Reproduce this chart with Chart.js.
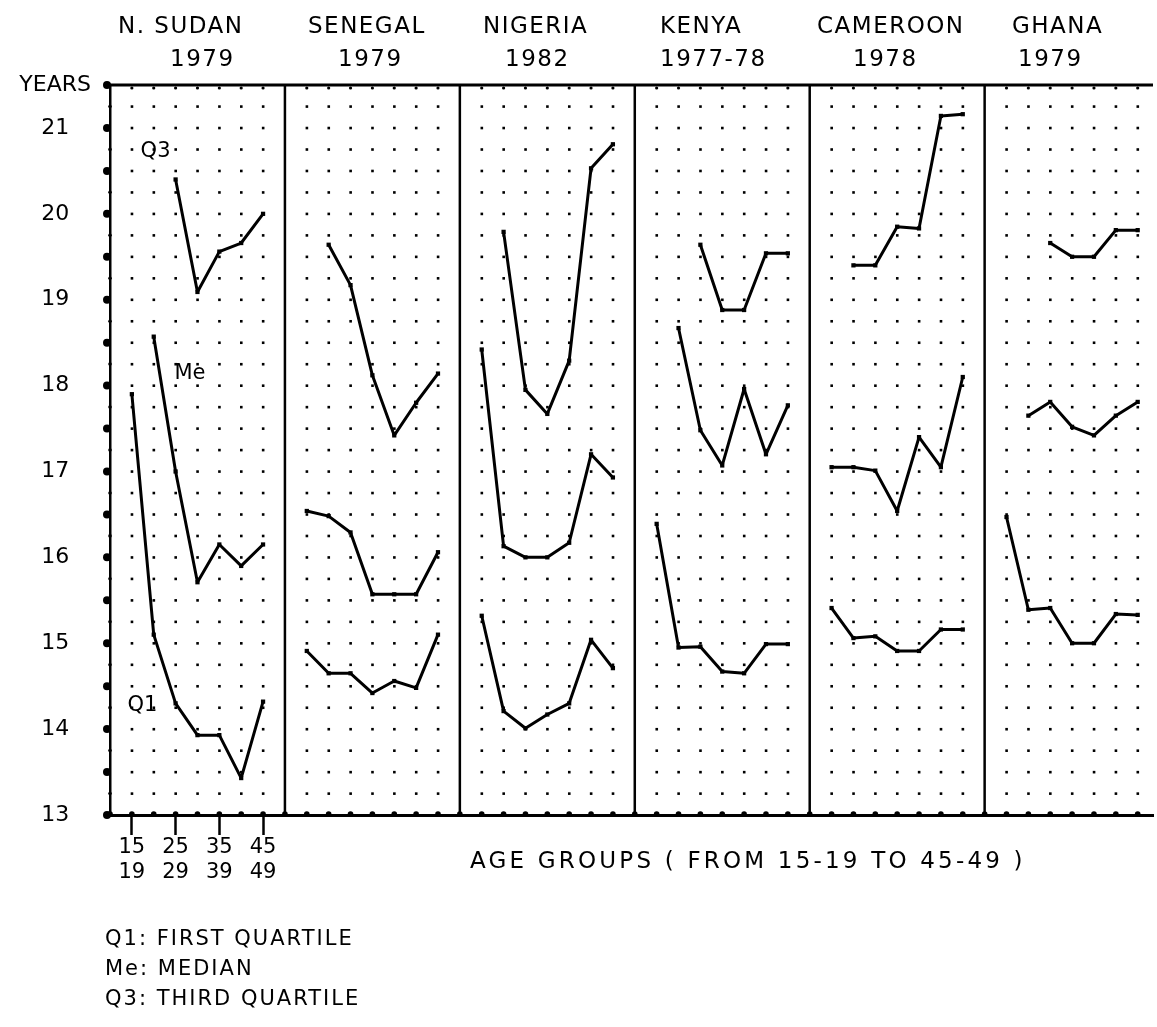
<!DOCTYPE html>
<html><head><meta charset="utf-8">
<script src="https://cdn.jsdelivr.net/npm/chart.js@4.4.1/dist/chart.umd.min.js"></script>
<style>html,body{margin:0;padding:0;background:#fff;}canvas{display:block;}</style>
</head><body>
<canvas id="c" width="1157" height="1027"></canvas>
<script>
// ---- data ----
const countries = ['N. SUDAN', 'SENEGAL', 'NIGERIA', 'KENYA', 'CAMEROON', 'GHANA'];
const surveyYears = ['1979', '1979', '1982', '1977-78', '1978', '1979'];
const ageGroups = ['15-19', '20-24', '25-29', '30-34', '35-39', '40-44', '45-49'];
const ageTickGroups = ['15-19', '25-29', '35-39', '45-49'];
const yTickValues = [13, 14, 15, 16, 17, 18, 19, 20, 21];
const yTopLabel = 'YEARS';

const sudanQ1 = [17.9, 15.1, 14.3, 13.93, 13.93, 13.43, 14.32];
const sudanMe = [null, 18.57, 17.0, 15.71, 16.15, 15.9, 16.15];
const sudanQ3 = [null, null, 20.4, 19.09, 19.56, 19.66, 20.0];

const senegalQ1 = [14.91, 14.65, 14.65, 14.42, 14.56, 14.48, 15.1];
const senegalMe = [16.54, 16.48, 16.29, 15.57, 15.57, 15.57, 16.06];
const senegalQ3 = [null, 19.64, 19.17, 18.12, 17.42, 17.8, 18.14];

const nigeriaQ1 = [15.32, 14.21, 14.01, 14.17, 14.3, 15.04, 14.71];
const nigeriaMe = [18.42, 16.13, 16.0, 16.0, 16.17, 17.2, 16.93];
const nigeriaQ3 = [null, 19.79, 17.95, 17.67, 18.29, 20.53, 20.81];

const kenyaQ1 = [16.39, 14.95, 14.96, 14.67, 14.65, 14.99, 14.99];
const kenyaMe = [null, 18.67, 17.48, 17.07, 17.96, 17.2, 17.77];
const kenyaQ3 = [null, null, 19.64, 18.88, 18.88, 19.54, 19.54];

const cameroonQ1 = [15.41, 15.06, 15.08, 14.91, 14.91, 15.16, 15.16];
const cameroonMe = [17.05, 17.05, 17.01, 16.54, 17.4, 17.05, 18.1];
const cameroonQ3 = [null, 19.4, 19.4, 19.85, 19.83, 21.14, 21.16];

const ghanaQ1 = [16.47, 15.39, 15.41, 15.0, 15.0, 15.34, 15.33];
const ghanaMe = [null, 17.65, 17.81, 17.52, 17.42, 17.65, 17.81];
const ghanaQ3 = [null, null, 19.66, 19.5, 19.5, 19.81, 19.81];

const seriesByCountry = [
  [sudanQ1, sudanMe, sudanQ3],
  [senegalQ1, senegalMe, senegalQ3],
  [nigeriaQ1, nigeriaMe, nigeriaQ3],
  [kenyaQ1, kenyaMe, kenyaQ3],
  [cameroonQ1, cameroonMe, cameroonQ3],
  [ghanaQ1, ghanaMe, ghanaQ3]
];
const seriesNames = ['Q1', 'Me', 'Q3'];
const legendLines = ['Q1: FIRST QUARTILE', 'Me: MEDIAN', 'Q3: THIRD QUARTILE'];
const axisTitle = 'AGE GROUPS ( FROM 15-19 TO 45-49 )';

// ---- layout helpers ----
const PANEL = 8;               // columns per panel
const xPos = (panel, ageIdx) => panel * PANEL + ageIdx + 1;
const X_MAX = 47.7;
const FONT = '"DejaVu Sans", sans-serif';

const datasets = [];
seriesByCountry.forEach((sets, p) => {
  sets.forEach((vals, s) => {
    datasets.push({
      label: countries[p] + ' ' + seriesNames[s],
      data: vals.map((v, i) => ({ x: xPos(p, i), y: v })),
      borderColor: '#000',
      backgroundColor: '#000',
      borderWidth: 3,
      borderJoinStyle: 'round',
      borderCapStyle: 'round',
      pointRadius: 3,
      pointStyle: 'rect',
      pointBorderWidth: 0,
      pointBackgroundColor: '#000',
      tension: 0,
      spanGaps: false
    });
  });
});

const deco = {
  id: 'deco',
  beforeDatasetsDraw(chart) {
    const { ctx, chartArea: a, scales: { x, y } } = chart;
    ctx.save();
    ctx.fillStyle = '#000';
    // grid dots
    for (let p = 0; p < countries.length; p++) {
      for (let c = 1; c < PANEL; c++) {
        const col = p * PANEL + c;
        if (col > X_MAX) continue;
        const px = x.getPixelForValue(col);
        for (let v = 13.25; v < 21.5; v += 0.25) {
          const py = y.getPixelForValue(v);
          ctx.fillRect(px - 1.2, py - 1.2, 2.6, 2.6);
        }
        ctx.beginPath(); ctx.arc(px, a.top + 3, 1.6, 0, Math.PI * 2); ctx.fill();
      }
    }
    for (let col = 0; col <= X_MAX; col++) {
      const px = x.getPixelForValue(col);
      ctx.beginPath(); ctx.arc(px, a.bottom - 1, 2.8, 0, Math.PI * 2); ctx.fill();
    }
    // y-axis dots
    for (let v = 13; v <= 21.5001; v += 0.25) {
      const py = y.getPixelForValue(v);
      const big = Math.abs(v * 2 - Math.round(v * 2)) < 1e-6;
      ctx.beginPath(); ctx.arc(a.left - (big ? 3 : 0), py, big ? 4 : 1.8, 0, Math.PI * 2); ctx.fill();
    }
    // panel dividers
    ctx.strokeStyle = '#000';
    ctx.lineWidth = 2.5;
    for (let p = 1; p < countries.length; p++) {
      const px = x.getPixelForValue(p * PANEL);
      ctx.beginPath(); ctx.moveTo(px, a.top); ctx.lineTo(px, a.bottom); ctx.stroke();
    }
    // top line
    ctx.lineWidth = 3;
    ctx.beginPath(); ctx.moveTo(a.left, a.top); ctx.lineTo(a.right, a.top); ctx.stroke();
    ctx.restore();
  },
  afterDraw(chart) {
    const { ctx, scales: { x, y } } = chart;
    ctx.save();
    ctx.fillStyle = '#000';
    ctx.textBaseline = 'alphabetic';
    ctx.font = '23px ' + FONT;
    ctx.letterSpacing = '1.5px';
    const titleX = [118, 308, 483, 660, 817, 1012];
    const yearX = [170, 338, 505, 660, 853, 1018];
    countries.forEach((c, i) => {
      ctx.textAlign = 'left';
      ctx.fillText(c, titleX[i], 33);
      ctx.fillText(surveyYears[i], yearX[i], 66);
    });
    // series annotations in first panel
    ctx.font = '21px ' + FONT;
    ctx.letterSpacing = '0px';
    ctx.textBaseline = 'middle';
    ctx.fillText('Q3', x.getPixelForValue(1.4), y.getPixelForValue(20.73));
    ctx.fillText('Me', x.getPixelForValue(2.95), y.getPixelForValue(18.14));
    ctx.fillText('Q1', x.getPixelForValue(0.8), y.getPixelForValue(14.28));
    // axis title
    ctx.font = '23px ' + FONT;
    ctx.letterSpacing = '3.2px';
    ctx.fillText(axisTitle, 470, 862);
    // legend lines
    ctx.font = '21px ' + FONT;
    ctx.letterSpacing = '2px';
    legendLines.forEach((t, i) => ctx.fillText(t, 105, 940 + i * 30));
    ctx.restore();
  }
};

new Chart(document.getElementById('c'), {
  type: 'line',
  data: { datasets },
  plugins: [deco],
  options: {
    responsive: false,
    animation: false,
    events: [],
    layout: { padding: { top: 85, left: 0, right: 0, bottom: 0 } },
    plugins: { legend: { display: false }, tooltip: { enabled: false }, title: { display: false } },
    scales: {
      x: {
        type: 'linear',
        min: 0,
        max: X_MAX,
        afterBuildTicks: (s) => { s.ticks = ageTickGroups.map(g => ({ value: xPos(0, ageGroups.indexOf(g)) })); },
        afterFit: (s) => { s.height = 212; },
        ticks: {
          autoSkip: false,
          maxRotation: 0,
          padding: 0,
          color: '#000',
          font: { family: FONT, size: 21 },
          callback: (v) => {
            const g = ageGroups[Math.round(v) - 1];
            return g ? g.split('-') : '';
          }
        },
        grid: { display: true, drawOnChartArea: false, drawTicks: true, tickLength: 20, tickColor: '#000', tickWidth: 2.5, color: '#000' },
        border: { display: true, color: '#000', width: 3 }
      },
      y: {
        type: 'linear',
        min: 13,
        max: 21.5,
        afterBuildTicks: (s) => { s.ticks = yTickValues.concat([21.5]).map(v => ({ value: v })); },
        afterFit: (s) => { s.width = 110; },
        ticks: {
          autoSkip: false,
          crossAlign: 'center',
          padding: 19,
          color: '#000',
          font: { family: FONT, size: 22 },
          callback: (v) => (v === 21.5 ? yTopLabel : String(v))
        },
        grid: { display: false, drawTicks: false },
        border: { display: true, color: '#000', width: 2.5 }
      }
    }
  }
});
</script>
</body></html>
